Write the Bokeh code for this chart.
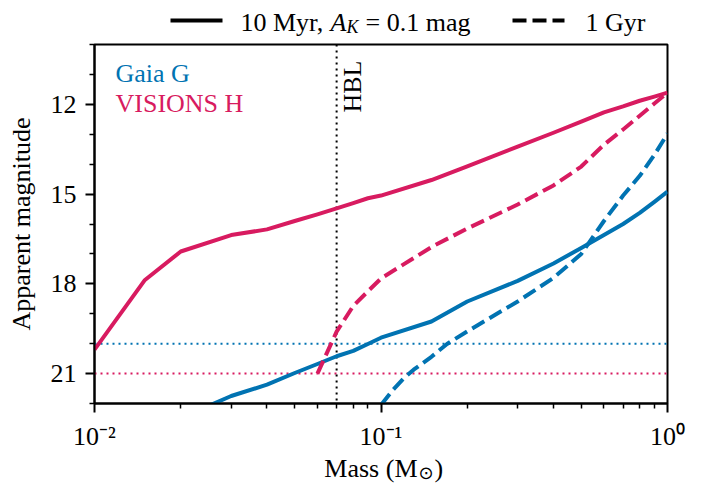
from bokeh.plotting import figure
from bokeh.models import Range1d, FixedTicker, Span, Label
from bokeh.layouts import column
from bokeh.embed import file_html
from bokeh.resources import INLINE
from bokeh.core.properties import value

# ---------------- data ----------------
mass_h_10myr = [0.01, 0.015, 0.02, 0.03, 0.04, 0.05, 0.06, 0.07, 0.08, 0.09, 0.1,
                0.15, 0.2, 0.3, 0.4, 0.5, 0.6, 0.7, 0.8, 0.9, 1.0]
mag_h_10myr = [20.2, 17.87, 16.92, 16.37, 16.18, 15.9, 15.68, 15.48, 15.3, 15.14, 15.05,
               14.53, 14.07, 13.41, 12.95, 12.58, 12.27, 12.07, 11.88, 11.74, 11.61]

mass_h_1gyr = [0.06, 0.07, 0.08, 0.09, 0.1, 0.15, 0.2, 0.3, 0.4, 0.5, 0.6, 0.7, 0.8, 0.9, 1.0]
mag_h_1gyr = [21.0, 19.6, 18.74, 18.25, 17.82, 16.77, 16.15, 15.35, 14.71, 14.08, 13.35,
              12.84, 12.38, 11.97, 11.61]

mass_g_10myr = [0.025, 0.03, 0.04, 0.05, 0.06, 0.07, 0.08, 0.09, 0.1, 0.15, 0.2, 0.3,
                0.4, 0.5, 0.6, 0.7, 0.8, 0.9, 1.0]
mag_g_10myr = [22.08, 21.75, 21.37, 20.98, 20.68, 20.42, 20.24, 20.01, 19.8, 19.26, 18.59,
               17.9, 17.32, 16.8, 16.37, 16.0, 15.63, 15.26, 14.92]

mass_g_1gyr = [0.1, 0.11, 0.12, 0.13, 0.15, 0.17, 0.2, 0.3, 0.4, 0.5, 0.6, 0.7, 0.8, 0.9, 1.0]
mag_g_1gyr = [22.05, 21.55, 21.16, 20.87, 20.44, 20.01, 19.59, 18.59, 17.8, 17.0, 15.9,
              15.05, 14.39, 13.69, 12.98]

gaia_limit = [20]
visions_limit = [21]
hbl_mass = [0.07]

x_major = [0.01, 0.1, 1.0]
x_minor = [0.02, 0.03, 0.04, 0.05, 0.06, 0.07, 0.08, 0.09,
           0.2, 0.3, 0.4, 0.5, 0.6, 0.7, 0.8, 0.9]
x_tick_labels = ["10\u207b\u00b2", "10\u207b\u00b9", "10\u2070"]
y_major = [12, 15, 18, 21]
y_minor = [10, 11, 13, 14, 16, 17, 19, 20, 22]

legend_labels = ["10 Myr, ", "A", "K", "= 0.1 mag", "1 Gyr"]
band_labels = ["Gaia G", "VISIONS H"]

# ---------------- style / layout ----------------
BLUE = "#0173B2"
CRIMSON = "#D81B60"
FONT = "Liberation Serif"
FSN = 26
FS = f"{FSN}px"
LW = 4
DASH = "14 6"
DOT = "2 4"
FIX = 6          # alphabetic anchor -> drawn baseline shift

W, H = 702, 483
LEFT, RIGHT = 94, 35
TOP_H = 38
MAIN_TOP, FRAME_H, MAIN_BOTTOM = 6, 359, 50
MAIN_H = MAIN_TOP + FRAME_H + MAIN_BOTTOM
BOT_H = H - TOP_H - MAIN_H
Y0_BOT = TOP_H + MAIN_H


def strip(height, y_top):
    f = figure(width=W, height=height, x_range=Range1d(LEFT, W - RIGHT),
               y_range=Range1d(y_top + height, y_top), x_axis_location=None,
               y_axis_location=None, min_border_left=LEFT, min_border_right=RIGHT,
               min_border_top=0, min_border_bottom=0, toolbar_location=None,
               output_backend="svg")
    f.outline_line_color = None
    f.grid.visible = False
    return f


def txt(f, x, y, s, size=FS, style="normal", align="left", font=FONT):
    f.text(x=[x], y=[y - FIX], text=[s], text_font=value(font), text_font_size=size,
           text_font_style=style, text_baseline="alphabetic", text_align=align,
           text_color="black")


# ---------------- legend strip (page pixel coordinates) ----------------
top = strip(TOP_H, 0)
top.line([170, 222], [20, 20], line_color="black", line_width=LW)
top.line([512, 564], [20, 20], line_color="black", line_width=LW, line_dash=DASH)
txt(top, 240, 28, legend_labels[0])
txt(top, 330, 28, legend_labels[1], style="italic")
txt(top, 346, 32, legend_labels[2], size="18px", style="italic")
txt(top, 365, 28, legend_labels[3])
txt(top, 585, 28, legend_labels[4])

# ---------------- main plot ----------------
p = figure(width=W, height=MAIN_H, x_axis_type="log", x_range=Range1d(0.01, 1.0),
           y_range=Range1d(22, 10), min_border_left=LEFT, min_border_right=RIGHT,
           min_border_top=MAIN_TOP, min_border_bottom=MAIN_BOTTOM,
           toolbar_location=None, output_backend="svg")
p.grid.visible = False
p.outline_line_color = "black"
p.outline_line_width = 2

p.xaxis.ticker = FixedTicker(ticks=x_major, minor_ticks=x_minor)
p.yaxis.ticker = FixedTicker(ticks=y_major, minor_ticks=y_minor)
for ax in (p.xaxis, p.yaxis):
    ax.axis_line_width = 2
    ax.axis_line_color = "black"
    ax.major_tick_in = 0
    ax.major_tick_out = 9
    ax.minor_tick_in = 0
    ax.minor_tick_out = 5
    ax.major_tick_line_width = 2
    ax.minor_tick_line_width = 1.5
    ax.major_tick_line_color = "black"
    ax.minor_tick_line_color = "black"
    ax.major_label_text_font = FONT
    ax.major_label_text_font_size = FS
    ax.major_label_text_color = "black"
p.xaxis.major_label_overrides = dict(zip(x_major, x_tick_labels))
p.xaxis.major_label_standoff = 9
p.yaxis.major_label_standoff = 9
p.yaxis.axis_label = "Apparent magnitude"
p.yaxis.axis_label_text_font = FONT
p.yaxis.axis_label_text_font_size = FS
p.yaxis.axis_label_text_font_style = "normal"
p.yaxis.axis_label_text_color = "black"
p.yaxis.axis_label_standoff = 12

p.add_layout(Span(location=gaia_limit[0], dimension="width", line_color=BLUE,
                  line_width=2, line_dash=DOT, level="underlay"))
p.add_layout(Span(location=visions_limit[0], dimension="width", line_color=CRIMSON,
                  line_width=2, line_dash=DOT, level="underlay"))
p.add_layout(Span(location=hbl_mass[0], dimension="height", line_color="black",
                  line_width=2, line_dash=DOT, level="underlay"))

p.line(mass_g_10myr, mag_g_10myr, line_color=BLUE, line_width=LW, line_join="round")
p.line(mass_g_1gyr, mag_g_1gyr, line_color=BLUE, line_width=LW, line_dash=DASH, line_join="round")
p.line(mass_h_10myr, mag_h_10myr, line_color=CRIMSON, line_width=LW, line_join="round")
p.line(mass_h_1gyr, mag_h_1gyr, line_color=CRIMSON, line_width=LW, line_dash=DASH, line_join="round")


def frame_x(px):
    return 10 ** (-2 + (px - LEFT) * 2.0 / (W - LEFT - RIGHT))


def frame_y(py):
    return 10 + (py - TOP_H - MAIN_TOP) * 12.0 / FRAME_H


p.add_layout(Label(x=frame_x(115), y=frame_y(79 - FIX), text=band_labels[0], text_color=BLUE,
                   text_font=FONT, text_font_size=FS, text_baseline="alphabetic"))
p.add_layout(Label(x=frame_x(115), y=frame_y(109 - FIX), text=band_labels[1], text_color=CRIMSON,
                   text_font=FONT, text_font_size=FS, text_baseline="alphabetic"))
p.add_layout(Label(x=frame_x(352), y=frame_y(112), text="HBL", text_color="black",
                   text_font=FONT, text_font_size=FS, text_baseline="alphabetic",
                   angle=90, angle_units="deg"))

# ---------------- x axis label strip ----------------
bot = strip(BOT_H, Y0_BOT)
txt(bot, 417, 474, "Mass (M", align="right")
txt(bot, 418, 478, "\u2299", size="18px", font="DejaVu Sans")
txt(bot, 434, 474, ")")

layout = column(top, p, bot, spacing=0)
open("out.html", "w").write(file_html(layout, INLINE))
